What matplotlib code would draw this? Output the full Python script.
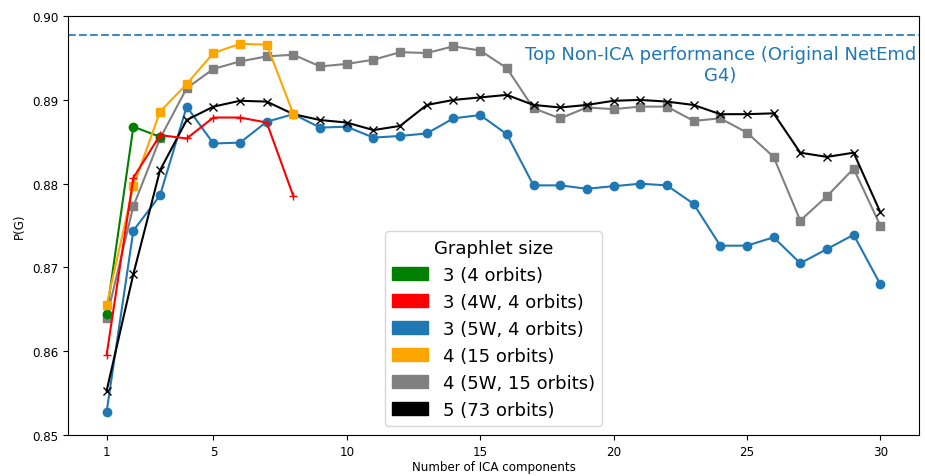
import matplotlib
matplotlib.use('Agg')
import matplotlib.pyplot as plt
from matplotlib.patches import Patch

top_non_ica = 0.8977

x_green = [1, 2, 3]
y_green = [0.8645, 0.8868, 0.8856]

x_red = [1, 2, 3, 4, 5, 6, 7, 8]
y_red = [0.8596, 0.8807, 0.8858, 0.8854, 0.8879, 0.8879, 0.8873, 0.8785]

x_orange = [1, 2, 3, 4, 5, 6, 7, 8]
y_orange = [0.8655, 0.8797, 0.8886, 0.8919, 0.8956, 0.8967, 0.8966, 0.8883]

x_all = list(range(1, 31))
y_blue = [0.8528, 0.8744, 0.8786, 0.8892, 0.8848, 0.8849, 0.8874, 0.8883, 0.8867, 0.8868,
          0.8855, 0.8857, 0.8860, 0.8878, 0.8882, 0.8859, 0.8798, 0.8798, 0.8794, 0.8797,
          0.8800, 0.8798, 0.8776, 0.8726, 0.8726, 0.8736, 0.8705, 0.8722, 0.8739, 0.8680]
y_grey = [0.8640, 0.8773, 0.8854, 0.8914, 0.8937, 0.8946, 0.8952, 0.8954, 0.8940, 0.8943,
          0.8948, 0.8957, 0.8956, 0.8964, 0.8959, 0.8938, 0.8890, 0.8878, 0.8891, 0.8889,
          0.8892, 0.8892, 0.8875, 0.8878, 0.8861, 0.8832, 0.8756, 0.8785, 0.8818, 0.8750]
y_black = [0.8553, 0.8692, 0.8816, 0.8876, 0.8892, 0.8899, 0.8898, 0.8883, 0.8876, 0.8873,
           0.8864, 0.8869, 0.8894, 0.8900, 0.8903, 0.8906, 0.8894, 0.8891, 0.8894, 0.8899,
           0.8900, 0.8898, 0.8894, 0.8883, 0.8883, 0.8884, 0.8837, 0.8832, 0.8837, 0.8766]

legend_labels = ['3 (4 orbits)', '3 (4W, 4 orbits)', '3 (5W, 4 orbits)',
                 '4 (15 orbits)', '4 (5W, 15 orbits)', '5 (73 orbits)']
legend_colors = ['green', 'red', 'tab:blue', 'orange', 'grey', 'black']

fig, ax = plt.subplots(figsize=(9.25, 4.77), dpi=100)
fig.subplots_adjust(left=0.0735, right=0.9935, top=0.964, bottom=0.086)

ax.plot(x_all, y_blue, 'o-', color='tab:blue')
ax.plot(x_all, y_grey, 's-', color='grey')
ax.plot(x_all, y_black, 'x-', color='black')
ax.plot(x_green, y_green, 'o-', color='green')
ax.plot(x_orange, y_orange, 's-', color='orange')
ax.plot(x_red, y_red, '+-', color='red')

# reference line + label
ax.axhline(top_non_ica, linestyle='--', color='tab:blue', alpha=0.85)
ax.text(24.0, 0.8965, 'Top Non-ICA performance (Original NetEmd\nG4)',
        ha='center', va='top', color='tab:blue', fontsize=13, linespacing=1.15)

ax.set_ylim(0.85, 0.90)
ax.set_xticks([1, 5, 10, 15, 20, 25, 30])
ax.tick_params(labelsize=8.6)
ax.set_xlabel('Number of ICA components', fontsize=8.6, labelpad=2)
ax.set_ylabel('P(G)', fontsize=8.6)

handles = [Patch(color=c, label=l) for c, l in zip(legend_colors, legend_labels)]
ax.legend(handles=handles, title='Graphlet size', loc='lower center',
          fontsize=13, title_fontsize=13)

fig.savefig('out.png')
